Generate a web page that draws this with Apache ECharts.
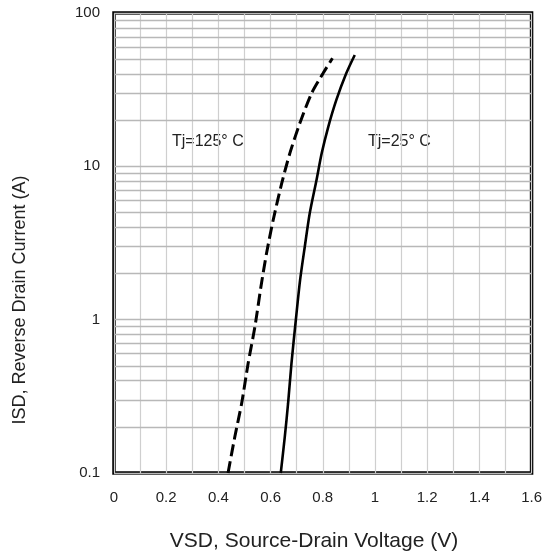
<!DOCTYPE html>
<html>
<head>
<meta charset="utf-8">
<script src="https://cdn.jsdelivr.net/npm/echarts@6/dist/echarts.min.js"></script>
<style>
html,body{margin:0;padding:0;background:#fff;}
#c{width:545px;height:559px;}
</style>
</head>
<body>
<div id="c"></div>
<script>
// Tj = 25 °C curve (solid)
const vsd25 = [0.639, 0.6545, 0.667, 0.680, 0.6967, 0.713, 0.731, 0.750, 0.776, 0.796, 0.821, 0.852, 0.890, 0.9225];
const isd25 = [0.1, 0.1725, 0.284, 0.519, 0.995, 1.81, 2.99, 4.94, 8.15, 12.2, 18.1, 27.1, 40.4, 53.2];
// Tj = 125 °C curve (dashed)
const vsd125 = [0.437, 0.463, 0.489, 0.514, 0.540, 0.563, 0.5845, 0.610, 0.643, 0.674, 0.712, 0.757, 0.801, 0.837];
const isd125 = [0.1, 0.1725, 0.284, 0.519, 0.9, 1.64, 2.71, 4.47, 7.79, 12.2, 19.1, 29.9, 40.4, 50.7];
// axis ticks
const xTicks = [0, 0.2, 0.4, 0.6, 0.8, 1, 1.2, 1.4, 1.6];
const yTicks = [0.1, 1, 10, 100];
const gridMultipliers = [2, 3, 4, 5, 6, 7, 8, 9];
const decades = [0.1, 1, 10];

const hLines = [];
decades.forEach(d => gridMultipliers.forEach(m => hLines.push({yAxis: +(d * m).toPrecision(3)})));
yTicks.forEach(v => hLines.push({yAxis: v}));

const zip = (xs, ys) => xs.map((x, i) => [x, ys[i]]);

const chart = echarts.init(document.getElementById('c'), null, {renderer: 'canvas'});
const labelFont = 'Liberation Sans, Arial, sans-serif';
chart.setOption({
  animation: false,
  backgroundColor: '#fff',
  grid: {left: 114, top: 13, width: 418, height: 460, show: true, borderColor: '#000', borderWidth: 3.5, backgroundColor: 'transparent'},
  xAxis: {
    type: 'value', min: 0, max: 1.6, interval: 0.2,
    axisLine: {show: false},
    axisTick: {show: false},
    minorTick: {show: false, splitNumber: 2},
    splitLine: {show: true, lineStyle: {color: '#cfcfcf', width: 1.2}},
    minorSplitLine: {show: true, lineStyle: {color: '#cfcfcf', width: 1.2}},
    axisLabel: {
      margin: 17, color: '#222', fontSize: 15, fontFamily: labelFont,
      formatter: v => xTicks.includes(+v.toFixed(2)) ? String(+v.toFixed(2)) : ''
    }
  },
  yAxis: {
    type: 'log', min: 0.1, max: 100, logBase: 10,
    axisLine: {show: false},
    axisTick: {show: false},
    splitLine: {show: false},
    axisLabel: {margin: 14, color: '#222', fontSize: 15, fontFamily: labelFont,
      formatter: v => String(v)}
  },
  series: [
    {
      type: 'line', data: [], silent: true,
      markLine: {silent: true, symbol: 'none', label: {show: false}, animation: false,
        lineStyle: {color: '#b8b8b8', width: 1.3, type: 'solid'}, data: hLines}
    },
    {
      name: 'Tj=25', type: 'line', data: zip(vsd25, isd25), smooth: 0.25, showSymbol: false,
      lineStyle: {color: '#000', width: 2.6}, z: 5
    },
    {
      name: 'Tj=125', type: 'line', data: zip(vsd125, isd125), smooth: 0.25, showSymbol: false,
      lineStyle: {color: '#000', width: 3, type: [12, 5]}, z: 5
    }
  ],
  graphic: [
    {type: 'text', left: 172, top: 134, style: {text: 'Tj=125° C', font: '16px ' + labelFont, fill: '#222'}},
    {type: 'text', left: 368, top: 134, style: {text: 'Tj=25° C', font: '16px ' + labelFont, fill: '#222'}},
    {type: 'text', x: 314, y: 541, style: {text: 'VSD, Source-Drain Voltage (V)', font: '21px Liberation Sans, Arial, sans-serif', fill: '#222', align: 'center', verticalAlign: 'middle'}},
    {type: 'text', x: 20, y: 300, rotation: Math.PI / 2, style: {text: 'ISD, Reverse Drain Current (A)', font: '18px Liberation Sans, Arial, sans-serif', fill: '#222', align: 'center', verticalAlign: 'middle'}}
  ]
});
</script>
</body>
</html>
